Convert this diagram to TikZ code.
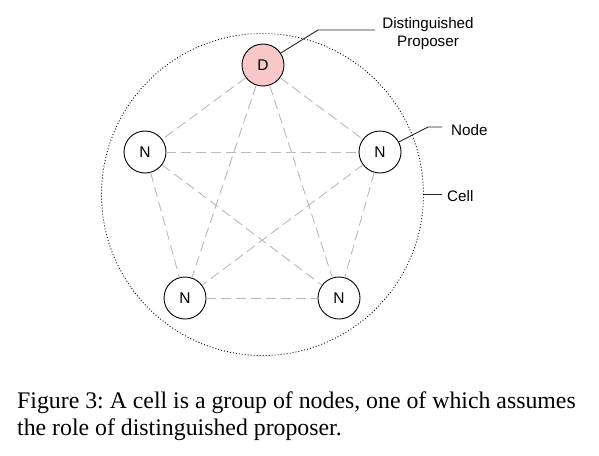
\documentclass[tikz,border=0pt]{standalone}
\usepackage{fontspec}
\setmainfont{Liberation Serif}
\setsansfont{Liberation Sans}
\frenchspacing
\definecolor{dfill}{RGB}{248,200,200}
\definecolor{edgegray}{RGB}{185,185,185}
\begin{document}
\begin{tikzpicture}[x=1pt,y=-1pt,
  peer/.style={circle,draw=black,line width=0.9pt,minimum size=42pt,inner sep=0pt,fill=white,font=\sffamily\fontsize{15.5}{17}\selectfont},
  link/.style={draw=edgegray,line width=0.9pt,dash pattern=on 10pt off 5pt},
  leader/.style={draw=black!85,line width=0.9pt},
  lbl/.style={font=\sffamily\fontsize{15.2}{18}\selectfont,inner sep=0pt,align=center},
  figcap/.style={font=\fontsize{23.8}{27}\selectfont,inner sep=0pt,anchor=base west}]
\useasboundingbox (0,0) rectangle (599,455);
\node[circle,draw=black,line width=0.9pt,dash pattern=on 0.9pt off 2.1pt,minimum size=322pt,inner sep=0pt] (cell) at (262.5,194.5) {};
\node[peer,fill=dfill] (D) at (263,65) {D};
\node[peer] (NL) at (145,152) {N};
\node[peer] (NR) at (380,152) {N};
\node[peer] (BL) at (185,298) {N};
\node[peer] (BR) at (339,298) {N};
\path[link] (D) -- (NL);
\path[link] (D) -- (NR);
\path[link] (D) -- (BL);
\path[link] (D) -- (BR);
\path[link] (NL) -- (NR);
\path[link] (NL) -- (BL);
\path[link] (NL) -- (BR);
\path[link] (NR) -- (BL);
\path[link] (NR) -- (BR);
\path[link] (BL) -- (BR);
\coordinate (dk) at (318,30);
\coordinate (de) at (375,30);
\draw[leader] (D.34) -- (dk) -- (de);
\node[lbl] (dlabel) at (428,34) {Distinguished\\Proposer};
\coordinate (nk) at (428,127);
\coordinate (ne) at (442,127);
\draw[leader] (NR.28) -- (nk) -- (ne);
\node[lbl,anchor=west] (nlabel) at (451,130) {Node};
\coordinate (ce) at (442,194.5);
\draw[leader] (cell.east) -- (ce);
\node[lbl,anchor=west] (clabel) at (447,196) {Cell};
\node[figcap] (cap1) at (17,408) {Figure 3: A cell is a group of nodes, one of which assumes};
\node[figcap] (cap2) at (17,435) {the role of distinguished proposer.};
\end{tikzpicture}
\end{document}
